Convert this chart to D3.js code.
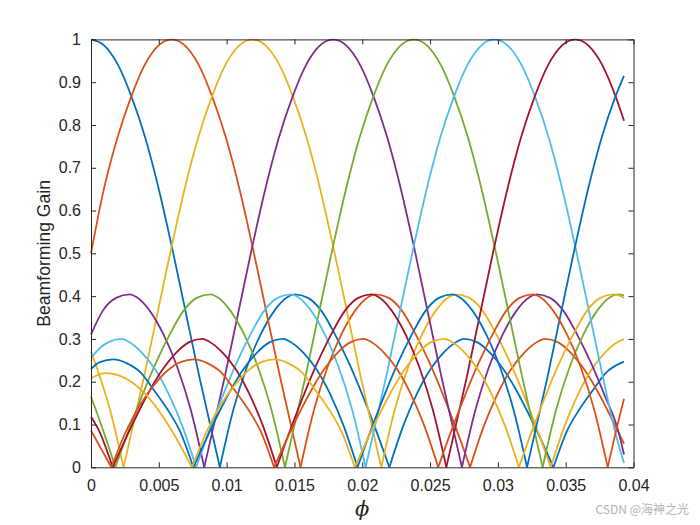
<!DOCTYPE html>
<html>
<head>
<meta charset="utf-8">
<script src="https://cdn.jsdelivr.net/npm/d3@7"></script>
<style>
    body { margin: 0; background: #fff; }
    svg { display: block; font-family: "Liberation Sans", Arial, sans-serif; }
</style>
</head>
<body>
<div id="chart"></div>
<script>
// tick values and labels
var xTicks = [0, 0.005, 0.01, 0.015, 0.02, 0.025, 0.03, 0.035, 0.04];
var xTickLabels = ["0", "0.005", "0.01", "0.015", "0.02", "0.025", "0.03", "0.035", "0.04"];
var yTicks = [0, 0.1, 0.2, 0.3, 0.4, 0.5, 0.6, 0.7, 0.8, 0.9, 1];
var yTickLabels = ["0", "0.1", "0.2", "0.3", "0.4", "0.5", "0.6", "0.7", "0.8", "0.9", "1"];

// MATLAB default line colours, used in order
var lineColors = ["#0072BD", "#D95319", "#EDB120", "#7E2F8E", "#77AC30", "#4DBEEE", "#A2142F"];

// one beam per array, [phi, gain]
var beam0 = [[0,1],[0.001,0.985],[0.002,0.94],[0.003,0.865],[0.004,0.77],[0.005,0.65],[0.006,0.51],[0.007,0.36],[0.008,0.21],[0.009,0.07],[0.0095,0],
    [0.0105,0.135],[0.0115,0.235],[0.0125,0.31],[0.0135,0.365],[0.0145,0.398],[0.015,0.404],[0.016,0.396],[0.017,0.365],[0.018,0.31],[0.019,0.245],[0.02,0.17],[0.021,0.088],[0.022,0],
    [0.023,0.095],[0.024,0.17],[0.025,0.228],[0.026,0.268],[0.027,0.294],[0.0275,0.3],[0.0285,0.292],[0.0295,0.265],[0.0305,0.225],[0.0315,0.172],[0.0325,0.11],[0.0341,0],
    [0.0351,0.085],[0.036,0.135],[0.037,0.18],[0.038,0.222],[0.039,0.243],[0.0393,0.247]];
var beam1 = [[0,0.5],[0.00095,0.65],[0.00195,0.77],[0.00295,0.865],[0.00395,0.94],[0.00495,0.985],[0.00595,1],
    [0.00695,0.985],[0.00795,0.94],[0.00895,0.865],[0.00995,0.77],[0.01095,0.65],[0.01195,0.51],[0.01295,0.36],[0.01395,0.21],[0.01495,0.07],[0.01545,0],
    [0.01645,0.135],[0.01745,0.235],[0.01845,0.31],[0.01945,0.365],[0.02045,0.398],[0.02095,0.404],[0.02195,0.396],[0.02295,0.365],[0.02395,0.31],[0.02495,0.245],[0.02595,0.17],[0.02695,0.088],[0.02795,0],
    [0.02895,0.095],[0.02995,0.17],[0.03095,0.228],[0.03195,0.268],[0.03295,0.294],[0.03345,0.3],[0.03445,0.292],[0.03545,0.265],[0.03645,0.225],[0.03745,0.172],[0.03845,0.11],[0.0393,0.055]];
var beam2 = [[0,0.27],[0.0004,0.235],[0.0014,0.135],[0.0024,0],
    [0.0029,0.07],[0.0039,0.21],[0.0049,0.36],[0.0059,0.51],[0.0069,0.65],[0.0079,0.77],[0.0089,0.865],[0.0099,0.94],[0.0109,0.985],[0.0119,1],
    [0.0129,0.985],[0.0139,0.94],[0.0149,0.865],[0.0159,0.77],[0.0169,0.65],[0.0179,0.51],[0.0189,0.36],[0.0199,0.21],[0.0209,0.07],[0.0214,0],
    [0.0224,0.135],[0.0234,0.235],[0.0244,0.31],[0.0254,0.365],[0.0264,0.398],[0.0269,0.404],[0.0279,0.396],[0.0289,0.365],[0.0299,0.31],[0.0309,0.245],[0.0319,0.17],[0.0329,0.088],[0.0339,0],
    [0.0349,0.095],[0.0359,0.17],[0.0369,0.228],[0.0379,0.268],[0.0389,0.294],[0.0393,0.299]];
var beam3 = [[0,0.31],[0.00085,0.365],[0.00185,0.396],[0.00285,0.404],[0.00335,0.398],[0.00435,0.365],[0.00535,0.31],[0.00635,0.235],[0.00735,0.135],[0.00835,0],
    [0.00885,0.07],[0.00985,0.21],[0.01085,0.36],[0.01185,0.51],[0.01285,0.65],[0.01385,0.77],[0.01485,0.865],[0.01585,0.94],[0.01685,0.985],[0.01785,1],
    [0.01885,0.985],[0.01985,0.94],[0.02085,0.865],[0.02185,0.77],[0.02285,0.65],[0.02385,0.51],[0.02485,0.36],[0.02585,0.21],[0.02685,0.07],[0.02735,0],
    [0.02835,0.135],[0.02935,0.235],[0.03035,0.31],[0.03135,0.365],[0.03235,0.398],[0.03285,0.404],[0.03385,0.396],[0.03485,0.365],[0.03585,0.31],[0.03685,0.245],[0.03785,0.17],[0.03885,0.088],[0.0393,0.03]];
var beam4 = [[0,0.165],[0.0008,0.095],[0.0018,0],
    [0.0028,0.088],[0.0038,0.17],[0.0048,0.245],[0.0058,0.31],[0.0068,0.365],[0.0078,0.396],[0.0088,0.404],[0.0093,0.398],[0.0103,0.365],[0.0113,0.31],[0.0123,0.235],[0.0133,0.135],[0.0143,0],
    [0.0148,0.07],[0.0158,0.21],[0.0168,0.36],[0.0178,0.51],[0.0188,0.65],[0.0198,0.77],[0.0208,0.865],[0.0218,0.94],[0.0228,0.985],[0.0238,1],
    [0.0248,0.985],[0.0258,0.94],[0.0268,0.865],[0.0278,0.77],[0.0288,0.65],[0.0298,0.51],[0.0308,0.36],[0.0318,0.21],[0.0328,0.07],[0.0333,0],
    [0.0343,0.135],[0.0353,0.235],[0.0363,0.31],[0.0373,0.365],[0.0383,0.398],[0.0388,0.404],[0.0393,0.402]];
var beam5 = [[0,0.255],[0.00025,0.265],[0.00125,0.292],[0.00225,0.3],[0.00275,0.294],[0.00375,0.268],[0.00475,0.228],[0.00575,0.17],[0.00675,0.095],[0.00775,0],
    [0.00875,0.088],[0.00975,0.17],[0.01075,0.245],[0.01175,0.31],[0.01275,0.365],[0.01375,0.396],[0.01475,0.404],[0.01525,0.398],[0.01625,0.365],[0.01725,0.31],[0.01825,0.235],[0.01925,0.135],[0.02025,0],
    [0.02075,0.07],[0.02175,0.21],[0.02275,0.36],[0.02375,0.51],[0.02475,0.65],[0.02575,0.77],[0.02675,0.865],[0.02775,0.94],[0.02875,0.985],[0.02975,1],
    [0.03075,0.985],[0.03175,0.94],[0.03275,0.865],[0.03375,0.77],[0.03475,0.65],[0.03575,0.51],[0.03675,0.36],[0.03775,0.21],[0.03875,0.07],[0.0393,0.01]];
var beam6 = [[0,0.118],[0.0006,0.085],[0.0016,0],
    [0.0032,0.11],[0.0042,0.172],[0.0052,0.225],[0.0062,0.265],[0.0072,0.292],[0.0082,0.3],[0.0087,0.294],[0.0097,0.268],[0.0107,0.228],[0.0117,0.17],[0.0127,0.095],[0.0137,0],
    [0.0147,0.088],[0.0157,0.17],[0.0167,0.245],[0.0177,0.31],[0.0187,0.365],[0.0197,0.396],[0.0207,0.404],[0.0212,0.398],[0.0222,0.365],[0.0232,0.31],[0.0242,0.235],[0.0252,0.135],[0.0262,0],
    [0.0267,0.07],[0.0277,0.21],[0.0287,0.36],[0.0297,0.51],[0.0307,0.65],[0.0317,0.77],[0.0327,0.865],[0.0337,0.94],[0.0347,0.985],[0.0357,1],
    [0.0367,0.985],[0.0377,0.94],[0.0387,0.865],[0.0393,0.81]];
var beam7 = [[0,0.23],[0.00065,0.246],[0.00165,0.252],[0.00265,0.243],[0.00365,0.222],[0.00465,0.18],[0.00565,0.135],[0.00655,0.085],[0.00755,0],
    [0.00915,0.11],[0.01015,0.172],[0.01115,0.225],[0.01215,0.265],[0.01315,0.292],[0.01415,0.3],[0.01465,0.294],[0.01565,0.268],[0.01665,0.228],[0.01765,0.17],[0.01865,0.095],[0.01965,0],
    [0.02065,0.088],[0.02165,0.17],[0.02265,0.245],[0.02365,0.31],[0.02465,0.365],[0.02565,0.396],[0.02665,0.404],[0.02715,0.398],[0.02815,0.365],[0.02915,0.31],[0.03015,0.235],[0.03115,0.135],[0.03215,0],
    [0.03265,0.07],[0.03365,0.21],[0.03465,0.36],[0.03565,0.51],[0.03665,0.65],[0.03765,0.77],[0.03865,0.865],[0.0393,0.915]];
var beam8 = [[0,0.086],[0.0015,0],
    [0.0026,0.085],[0.0036,0.145],[0.0046,0.19],[0.0056,0.225],[0.0066,0.246],[0.0076,0.252],[0.0086,0.243],[0.0096,0.222],[0.0106,0.18],[0.0116,0.135],[0.0125,0.085],[0.0135,0],
    [0.0151,0.11],[0.0161,0.172],[0.0171,0.225],[0.0181,0.265],[0.0191,0.292],[0.0201,0.3],[0.0206,0.294],[0.0216,0.268],[0.0226,0.228],[0.0236,0.17],[0.0246,0.095],[0.0256,0],
    [0.0266,0.088],[0.0276,0.17],[0.0286,0.245],[0.0296,0.31],[0.0306,0.365],[0.0316,0.396],[0.0326,0.404],[0.0331,0.398],[0.0341,0.365],[0.0351,0.31],[0.0361,0.235],[0.0371,0.135],[0.0381,0],
    [0.0386,0.07],[0.0393,0.16]];
var beam9 = [[0,0.208],[0.00105,0.22],[0.00205,0.215],[0.00305,0.198],[0.00405,0.17],[0.00505,0.13],[0.00595,0.086],[0.00745,0],
    [0.00855,0.085],[0.00955,0.145],[0.01055,0.19],[0.01155,0.225],[0.01255,0.246],[0.01355,0.252],[0.01455,0.243],[0.01555,0.222],[0.01655,0.18],[0.01755,0.135],[0.01845,0.085],[0.01945,0],
    [0.02105,0.11],[0.02205,0.172],[0.02305,0.225],[0.02405,0.265],[0.02505,0.292],[0.02605,0.3],[0.02655,0.294],[0.02755,0.268],[0.02855,0.228],[0.02955,0.17],[0.03055,0.095],[0.03155,0],
    [0.03255,0.088],[0.03355,0.17],[0.03455,0.245],[0.03555,0.31],[0.03655,0.365],[0.03755,0.396],[0.03855,0.404],[0.0393,0.396]];

var beams = [beam0, beam1, beam2, beam3, beam4, beam5, beam6, beam7, beam8, beam9];

var W = 700,
    H = 525,
    margin = { top: 39.4, right: 66.5, bottom: 57.7, left: 91 },
    width = W - margin.left - margin.right,
    height = H - margin.top - margin.bottom;

var svg = d3
    .select("#chart")
    .append("svg")
    .attr("width", W)
    .attr("height", H);

var g = svg.append("g").attr("transform", "translate(" + margin.left + "," + margin.top + ")");

var x = d3.scaleLinear().domain([0, 0.04]).range([0, width]);
var y = d3.scaleLinear().domain([0, 1]).range([height, 0]);

g.append("clipPath")
    .attr("id", "plotClip")
    .append("rect")
    .attr("x", -1)
    .attr("y", -1)
    .attr("width", width + 2)
    .attr("height", height + 2);

// every null is a sharp cusp, so each lobe is drawn as its own smooth piece
function lobes(pts) {
    var out = [],
        cur = [];
    pts.forEach((p, i) => {
        cur.push(p);
        if (p[1] === 0 && i > 0 && i < pts.length - 1) {
            out.push(cur);
            cur = [p];
        }
    });
    if (cur.length > 1) out.push(cur);
    return out;
}

var line = d3
    .line()
    .curve(d3.curveMonotoneX)
    .x((d) => x(d[0]))
    .y((d) => y(d[1]));

var plot = g.append("g").attr("clip-path", "url(#plotClip)");

beams.forEach((b, i) => {
    plot.append("g")
        .selectAll("path")
        .data(lobes(b))
        .enter()
        .append("path")
        .attr("fill", "none")
        .attr("stroke", lineColors[i % lineColors.length])
        .attr("stroke-width", 1.8)
        .attr("stroke-linejoin", "round")
        .attr("d", line);
});

var axisColor = "#262626";

var xAxis = g
    .append("g")
    .attr("transform", "translate(0," + height + ")")
    .call(
        d3.axisBottom(x)
            .tickValues(xTicks)
            .tickFormat((d, i) => xTickLabels[i])
            .tickSizeInner(-5)
            .tickSizeOuter(0)
            .tickPadding(12)
    );
var xTop = g.append("g").call(d3.axisTop(x).tickValues(xTicks).tickFormat("").tickSizeInner(-5).tickSizeOuter(0));

var yAxis = g.append("g").call(
    d3.axisLeft(y)
        .tickValues(yTicks)
        .tickFormat((d, i) => yTickLabels[i])
        .tickSizeInner(-5)
        .tickSizeOuter(0)
        .tickPadding(10)
);
var yRight = g
    .append("g")
    .attr("transform", "translate(" + width + ",0)")
    .call(d3.axisRight(y).tickValues(yTicks).tickFormat("").tickSizeInner(-5).tickSizeOuter(0));

[xAxis, xTop, yAxis, yRight].forEach((a) => {
    a.selectAll("path").attr("stroke", axisColor).attr("stroke-width", 1);
    a.selectAll("line").attr("stroke", axisColor).attr("stroke-width", 1);
    a.selectAll("text")
        .attr("fill", axisColor)
        .style("font-size", "16px")
        .style("font-family", "'Liberation Sans', Arial, sans-serif");
});

// axis labels
g.append("text")
    .attr("transform", "translate(-41," + height / 2 + ") rotate(-90)")
    .attr("text-anchor", "middle")
    .attr("fill", axisColor)
    .style("font-size", "17.6px")
    .text("Beamforming Gain");

g.append("text")
    .attr("x", width / 2)
    .attr("y", height + 49)
    .attr("text-anchor", "middle")
    .attr("fill", axisColor)
    .style("font-size", "21px")
    .style("font-style", "italic")
    .style("font-family", "'DejaVu Serif', 'Liberation Serif', serif")
    .text("ϕ");

// watermark
svg.append("text")
    .attr("x", 689)
    .attr("y", 514)
    .attr("text-anchor", "end")
    .attr("fill", "#b4b4b4")
    .style("font-size", "12px")
    .style("font-family", "'Noto Sans CJK SC', 'Noto Sans', sans-serif")
    .text("CSDN @海神之光");
</script>
</body>
</html>
